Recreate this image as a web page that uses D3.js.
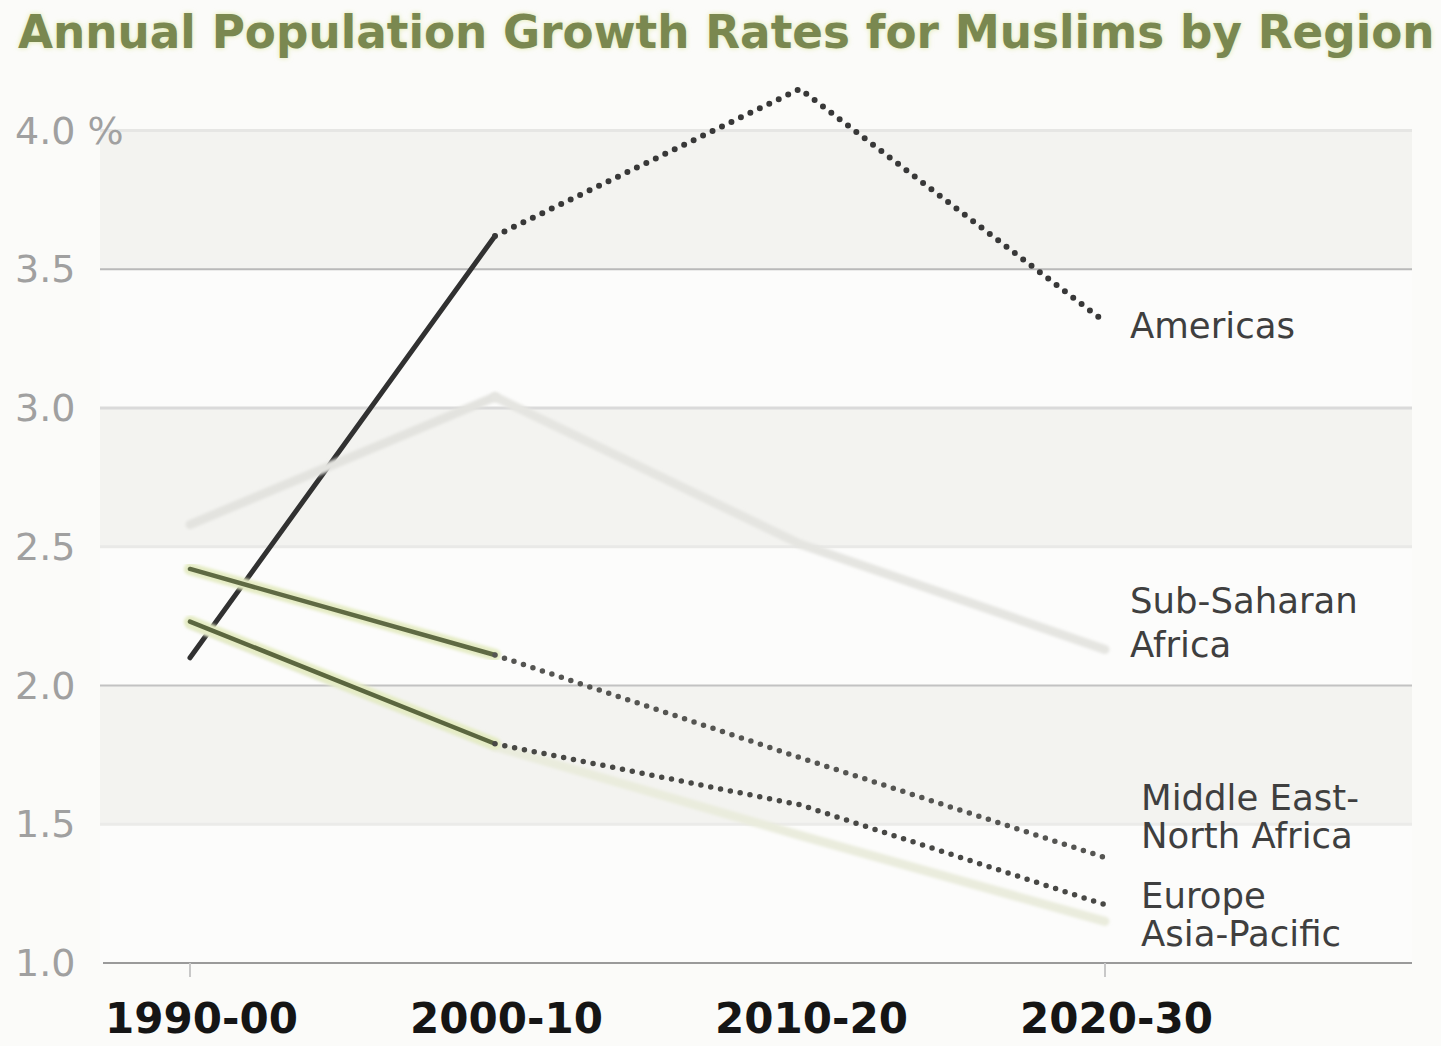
<!DOCTYPE html>
<html>
<head>
<meta charset="utf-8">
<script src="https://cdn.jsdelivr.net/npm/d3@7"></script>
<style>
  html, body { margin: 0; padding: 0; background: #fbfbf9; }
  svg { display: block; }
</style>
</head>
<body>
<svg id="chart" width="1441" height="1046"></svg>
<script>
// Decades on the x axis
const periods = ["1990-00", "2000-10", "2010-20", "2020-30"];

// Annual growth rate of the Muslim population, percent
const americas      = [2.10, 3.62, 4.15, 3.31];
const subSaharan    = [2.58, 3.04, 2.51, 2.13];
const middleEastNA  = [2.42, 2.11, 1.74, 1.38];
const europe        = [2.23, 1.79, 1.57, 1.21];
const asiaPacific   = [2.22, 1.78, 1.46, 1.15];

// Y axis ticks and their labels
const yTicks      = [4.0, 3.5, 3.0, 2.5, 2.0, 1.5, 1.0];
const yTickLabels = ["4.0 %", "3.5", "3.0", "2.5", "2.0", "1.5", "1.0"];

// Region names drawn at the right-hand end of each line
const regionNames = ["Americas", "Sub-Saharan\nAfrica", "Middle East-\nNorth Africa", "Europe", "Asia-Pacific"];

const titleText = "Annual Population Growth Rates for Muslims by Region";

// The first two periods are estimates, the rest are projections
const lastObserved = 1;

const svg = d3.select("#chart");
const W = 1441, H = 1046;

const plotLeft = 100, plotRight = 1412;
const x = d3.scalePoint().domain(periods).range([190, 1105]);
const y = d3.scaleLinear().domain([1, 4]).range([963, 130.5]);

// background
svg.append("rect").attr("width", W).attr("height", H).attr("fill", "#fbfbf9");

// alternating horizontal bands
const bandEdges = yTicks.slice().sort((a, b) => b - a);
for (let i = 0; i < bandEdges.length - 1; i++) {
  svg.append("rect")
    .attr("x", plotLeft)
    .attr("width", plotRight - plotLeft)
    .attr("y", y(bandEdges[i]))
    .attr("height", y(bandEdges[i + 1]) - y(bandEdges[i]))
    .attr("fill", i % 2 === 0 ? "#f3f3f0" : "#fcfcfb");
}

// gridlines
const gridStyle = {
  4.0: { c: "#e6e6e4", w: 3 },
  3.5: { c: "#b9b9b9", w: 2 },
  3.0: { c: "#dadada", w: 3 },
  2.5: { c: "#e9e9e7", w: 3 },
  2.0: { c: "#c2c2c2", w: 2 },
  1.5: { c: "#ebebe9", w: 3 }
};
svg.append("g").selectAll("line")
  .data(yTicks.filter(t => t > 1))
  .join("line")
  .attr("x1", plotLeft).attr("x2", plotRight)
  .attr("y1", d => y(d)).attr("y2", d => y(d))
  .attr("stroke", d => gridStyle[d].c)
  .attr("stroke-width", d => gridStyle[d].w);

// y tick labels
svg.append("g").selectAll("text")
  .data(yTicks)
  .join("text")
  .attr("x", 15)
  .attr("y", d => y(d) + 13)
  .attr("font-family", "DejaVu Sans, Verdana, sans-serif")
  .attr("font-size", 38)
  .attr("fill", "#a0a0a0")
  .text((d, i) => yTickLabels[i]);

// x axis
const xAxis = d3.axisBottom(x).tickSize(0).tickPadding(0);
const xg = svg.append("g").attr("transform", `translate(0,${y(1)})`).call(xAxis);
xg.select(".domain").remove();
xg.selectAll("text")
  .attr("dx", 11)
  .attr("y", 70)
  .attr("dy", 0)
  .attr("font-family", "DejaVu Sans, Verdana, sans-serif")
  .attr("font-weight", "bold")
  .attr("font-size", 42)
  .attr("fill", "#151515");
svg.append("line")
  .attr("x1", 103).attr("x2", plotRight)
  .attr("y1", y(1)).attr("y2", y(1))
  .attr("stroke", "#9a9a9a").attr("stroke-width", 2);
svg.append("g").selectAll("line")
  .data([periods[0], periods[periods.length - 1]])
  .join("line")
  .attr("x1", d => x(d)).attr("x2", d => x(d))
  .attr("y1", y(1)).attr("y2", y(1) + 14)
  .attr("stroke", "#c8c8c8").attr("stroke-width", 2);

// lines
const soft = svg.append("defs").append("filter").attr("id", "soft")
  .attr("x", "-5%").attr("y", "-5%").attr("width", "110%").attr("height", "110%");
soft.append("feGaussianBlur").attr("stdDeviation", 1.4);

const line = d3.line().x(d => x(periods[d.i])).y(d => y(d.v));
const pts = vals => vals.map((v, i) => ({ i, v }));

const series = [
  { name: regionNames[0], values: americas,
    base: null,
    solid: { c: "#313131", w: 5 },
    proj: { c: "#383838", w: 6, dash: "0 10.5" } },
  { name: regionNames[1], values: subSaharan,
    base: null,
    solid: { c: "#e3e3df", w: 9, blur: true },
    proj: { c: "#e5e5e1", w: 9, blur: true } },
  { name: regionNames[4], values: asiaPacific,
    base: null,
    solid: { c: "#e8ecd6", w: 9, blur: true },
    proj: { c: "#eaecdd", w: 9, blur: true } },
  { name: regionNames[2], values: middleEastNA,
    base: { c: "#e5ecc4", w: 12 },
    solid: { c: "#5f6a43", w: 4.5 },
    proj: { c: "#555552", w: 5.5, dash: "0 10" } },
  { name: regionNames[3], values: europe,
    base: { c: "#e5ecc4", w: 12 },
    solid: { c: "#5b663f", w: 4.5 },
    proj: { c: "#484845", w: 5.5, dash: "0 10" } }
];

const lines = svg.append("g").attr("fill", "none").attr("stroke-linecap", "round").attr("stroke-linejoin", "round");
series.forEach(s => {
  const p = pts(s.values);
  const observed = p.slice(0, lastObserved + 1);
  const projected = p.slice(lastObserved);
  if (s.base) {
    lines.append("path").attr("d", line(observed))
      .attr("stroke", s.base.c).attr("stroke-width", s.base.w)
      .attr("filter", "url(#soft)");
  }
  lines.append("path").attr("d", line(observed))
    .attr("stroke", s.solid.c).attr("stroke-width", s.solid.w)
    .attr("filter", s.solid.blur ? "url(#soft)" : null);
  const pp = lines.append("path").attr("d", line(projected))
    .attr("stroke", s.proj.c).attr("stroke-width", s.proj.w)
    .attr("filter", s.proj.blur ? "url(#soft)" : null);
  if (s.proj.dash) pp.attr("stroke-dasharray", s.proj.dash);
});

// region labels, placed relative to the end of each line
const lastIdx = periods.length - 1;
const labelLayout = [
  { text: regionNames[0], vals: americas,     dx: 25, dy: 16,  lh: 0 },
  { text: regionNames[1], vals: subSaharan,   dx: 25, dy: -36, lh: 44 },
  { text: regionNames[2], vals: middleEastNA, dx: 36, dy: -48, lh: 38 },
  { text: regionNames[3], vals: europe,       dx: 36, dy: 3,   lh: 0 },
  { text: regionNames[4], vals: asiaPacific,  dx: 36, dy: 25,  lh: 0 }
];
const lg = svg.append("g")
  .attr("font-family", "DejaVu Sans, Verdana, sans-serif")
  .attr("font-size", 35.5)
  .attr("fill", "#3f3f3f");
labelLayout.forEach(l => {
  const t = lg.append("text")
    .attr("x", x(periods[lastIdx]) + l.dx)
    .attr("y", y(l.vals[lastIdx]) + l.dy);
  l.text.split("\n").forEach((part, k) => {
    t.append("tspan")
      .attr("x", x(periods[lastIdx]) + l.dx)
      .attr("dy", k === 0 ? 0 : l.lh)
      .text(part);
  });
});

// title, sized to span the chart width
const glow = svg.select("defs").append("filter").attr("id", "glow")
  .attr("x", "-2%").attr("y", "-30%").attr("width", "104%").attr("height", "160%");
glow.append("feGaussianBlur").attr("stdDeviation", 2.5);

const titleG = svg.append("g")
  .attr("font-family", "DejaVu Sans, Verdana, sans-serif")
  .attr("font-weight", "bold");
const titleGlow = titleG.append("text").attr("x", 18).attr("y", 48)
  .attr("fill", "#dfe8a8").attr("filter", "url(#glow)").text(titleText);
const title = titleG.append("text").attr("x", 18).attr("y", 48)
  .attr("fill", "#7a8850").text(titleText);
let fs = 38;
title.attr("font-size", fs);
const len = title.node().getComputedTextLength();
fs = fs * 1417 / len;
title.attr("font-size", fs);
titleGlow.attr("font-size", fs);
</script>
</body>
</html>
